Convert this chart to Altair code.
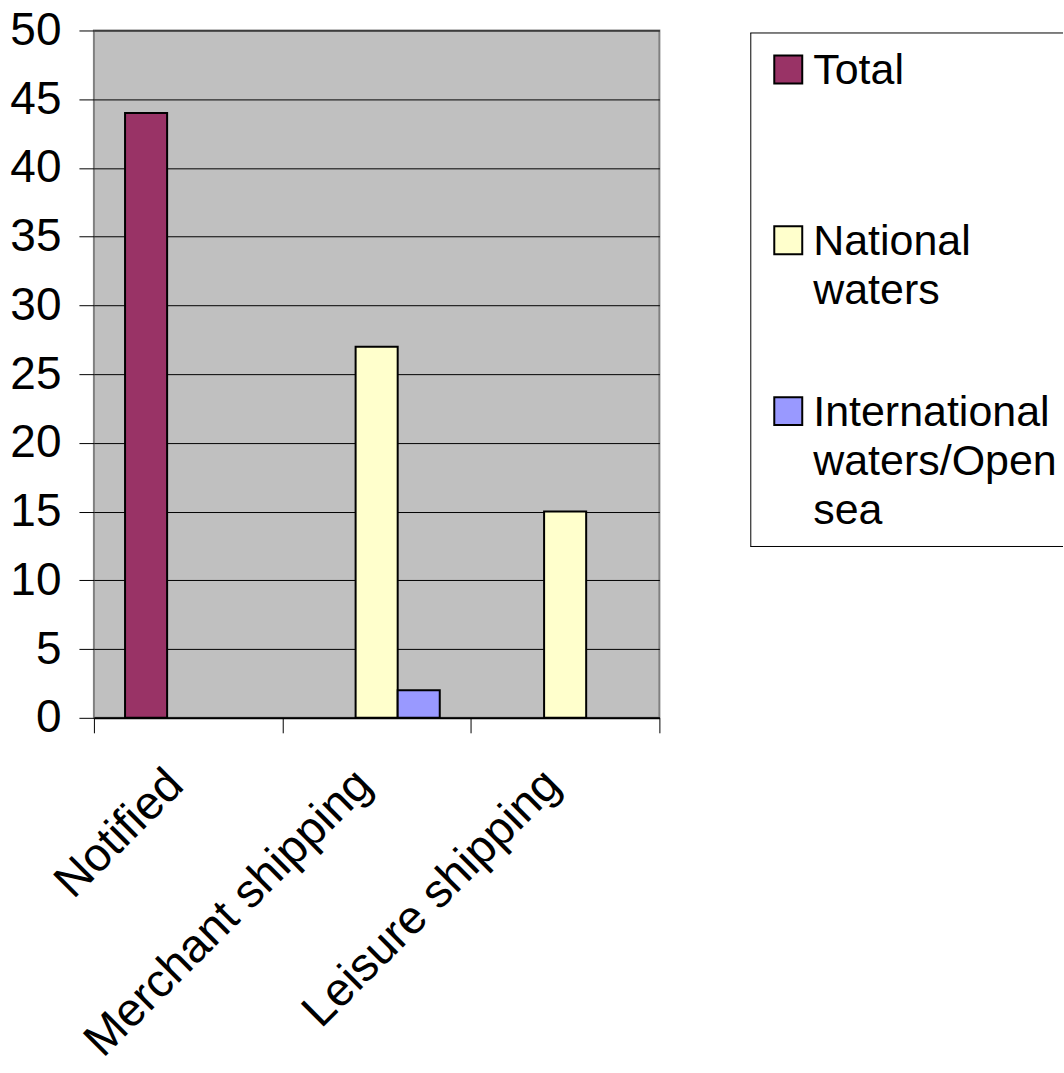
import altair as alt
import pandas as pd

# Categories on the x axis and the three series drawn side by side
categories = ["Notified", "Merchant shipping", "Leisure shipping"]
series = ["Total", "National waters", "International waters/Open sea"]
series_colors = ["#993366", "#FFFFCC", "#9999FF"]
legend_lines = ["Total", "National\nwaters", "International\nwaters/Open\nsea"]

# Bars that are present (one row per drawn bar)
bar_category = ["Notified", "Merchant shipping", "Merchant shipping", "Leisure shipping"]
bar_series = ["Total", "National waters", "International waters/Open sea", "National waters"]
bar_value = [44, 27, 2, 15]

y_ticks = [0, 5, 10, 15, 20, 25, 30, 35, 40, 45, 50]

FONT = "Liberation Sans"

bars_df = pd.DataFrame({"category": bar_category, "series": bar_series, "value": bar_value})
legend_df = pd.DataFrame({"series": series, "label": legend_lines})

color_scale = alt.Scale(domain=series, range=series_colors)

bars = alt.Chart(bars_df).mark_bar(stroke="black", strokeWidth=2).encode(
    x=alt.X(
        "category:N",
        sort=categories,
        scale=alt.Scale(domain=categories, paddingInner=0, paddingOuter=0),
        axis=alt.Axis(
            title=None,
            labelAngle=-45,
            labelFont=FONT,
            labelFontSize=47,
            labelColor="black",
            labelPadding=28,
            labelOffset=-29,
            tickBand="extent",
            tickSize=15,
            tickColor="black",
            domainColor="black",
            domainWidth=2,
            grid=False,
            labelLimit=1000,
        ),
    ),
    xOffset=alt.XOffset(
        "series:N",
        scale=alt.Scale(domain=series, paddingInner=0, paddingOuter=0.74),
    ),
    y=alt.Y(
        "value:Q",
        scale=alt.Scale(domain=[0, 50], nice=False),
        axis=alt.Axis(
            values=y_ticks,
            title=None,
            labelFont=FONT,
            labelFontSize=46,
            labelColor="black",
            labelPadding=18,
            tickSize=15,
            tickColor="black",
            domain=False,
            grid=True,
            gridColor="black",
            gridWidth=1,
        ),
    ),
    color=alt.Color("series:N", scale=color_scale, legend=None),
).properties(
    width=566,
    height=688,
    view=alt.ViewBackground(fill="#C0C0C0", stroke="#808080", strokeWidth=2),
)

# Hand-built legend: a square swatch and a wrapped label per series
legend_base = alt.Chart(legend_df).encode(
    y=alt.Y(
        "series:N",
        sort=series,
        scale=alt.Scale(type="point", domain=series, range=[39, 381], padding=0),
        axis=None,
    )
)
swatches = legend_base.mark_square(size=784, stroke="black", strokeWidth=2, opacity=1).encode(
    x=alt.value(38),
    color=alt.Color("series:N", scale=color_scale, legend=None),
)
labels = legend_base.mark_text(
    align="left",
    baseline="alphabetic",
    dy=15,
    font=FONT,
    fontSize=43,
    lineBreak="\n",
    lineHeight=49,
    color="black",
).encode(x=alt.value(63), text="label:N")

frame_data = alt.Data(values=[{"k": 0}])
frame_top = alt.Chart(frame_data).mark_rule(color="black", strokeWidth=1).encode(
    x=alt.value(0), x2=alt.value(313), y=alt.value(2.5)
)
frame_bottom = alt.Chart(frame_data).mark_rule(color="black", strokeWidth=1).encode(
    x=alt.value(0), x2=alt.value(313), y=alt.value(516.5)
)
frame_left = alt.Chart(frame_data).mark_rule(color="black", strokeWidth=1).encode(
    x=alt.value(0.5), y=alt.value(2.5), y2=alt.value(516.5)
)

legend_panel = alt.layer(frame_top, frame_bottom, frame_left, swatches, labels).properties(
    width=313,
    height=515,
    view=alt.ViewBackground(fill="white", stroke=None),
)

chart = alt.hconcat(bars, legend_panel, spacing=88).properties(
    padding={"left": 8, "top": 6, "right": 0, "bottom": 0},
    background="white",
).configure_view(strokeWidth=0)

chart.save("out.html", embed_options={"renderer": "svg", "actions": False})
